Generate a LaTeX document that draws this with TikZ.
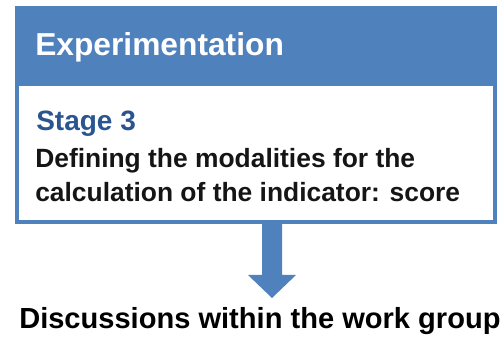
\documentclass[tikz,border=0pt]{standalone}
\usepackage{fontspec}
\setmainfont{Liberation Sans}
\usetikzlibrary{calc}
\definecolor{hblue}{HTML}{4F81BD}
\definecolor{sblue}{HTML}{2A5591}
\definecolor{ink}{HTML}{151515}
\begin{document}
\begin{tikzpicture}[x=0.75pt,y=-0.75pt,
  txt/.style={inner sep=0pt, anchor=base west, font=\bfseries},
  panel/.style={draw=hblue, line width=3pt, fill=white, minimum width=358.5pt, minimum height=160.5pt, inner sep=0pt}]
  \useasboundingbox (0,0) rectangle (504,338);
  % framed panel with a filled title band
  \node[panel] (frame) at (256,115) {};
  \fill[hblue] (15,6) rectangle (497,86);
  \node[txt, text=white, font=\bfseries\fontsize{23.8}{28}\selectfont] (title) at (35,56) {Experimentation};
  \node[txt, text=sblue, font=\bfseries\fontsize{21}{24}\selectfont] (stage) at (36,131) {Stage 3};
  \node[txt, text=ink, font=\bfseries\fontsize{19.8}{24}\selectfont] (line1) at (35,168) {Defining the modalities for the};
  \node[txt, text=ink, font=\bfseries\fontsize{19.8}{24}\selectfont] (line2) at (35,202) {calculation of the indicator: score};
  % result label
  \node[txt, text=black, font=\bfseries\fontsize{21.8}{26}\selectfont] (result) at (19,329) {Discussions within the work group};
  % block arrow from the panel down to the label
  \coordinate (tip) at (272,298);
  \coordinate (sl) at ($(tip)+(-10,0)$);
  \coordinate (sr) at ($(tip)+(10,0)$);
  \fill[hblue] (sl |- frame.south) -- ($(tip)+(-10,-23)$) -- ($(tip)+(-24,-23)$) -- (tip)
    -- ($(tip)+(24,-23)$) -- ($(tip)+(10,-23)$) -- (sr |- frame.south) -- cycle;
\end{tikzpicture}
\end{document}
